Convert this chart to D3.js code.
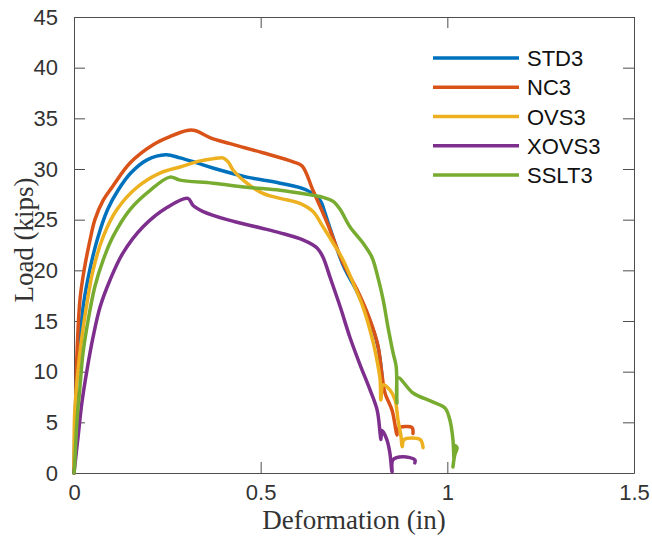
<!DOCTYPE html>
<html>
<head>
<meta charset="utf-8">
<script src="https://cdn.jsdelivr.net/npm/d3@7"></script>
<style>
  body { margin: 0; background: #fff; }
  svg { display: block; }
</style>
</head>
<body>
<div id="chart"></div>
<script>
// load-deformation curves, values (in, kips)
const seriesNames = ["STD3", "NC3", "OVS3", "XOVS3", "SSLT3"];

const std3 = [
  [0, 0], [0.003, 5.2], [0.008, 10.2], [0.016, 13.4], [0.026, 16.8], [0.042, 20.0],
  [0.062, 23.0], [0.090, 26.0], [0.118, 27.9], [0.152, 29.6], [0.196, 30.9], [0.246, 31.4],
  [0.284, 31.1], [0.329, 30.6], [0.372, 30.1], [0.463, 29.2], [0.552, 28.6], [0.624, 27.9],
  [0.659, 26.9], [0.672, 25.7], [0.680, 24.8], [0.721, 20.5], [0.758, 17.9], [0.793, 15.0],
  [0.814, 12.5], [0.825, 9.6]
];

const nc3 = [
  [0, 0], [0.003, 4.2], [0.005, 7.2], [0.008, 11.8], [0.016, 17.1], [0.027, 20.0],
  [0.043, 23.0], [0.056, 25.0], [0.078, 26.9], [0.102, 28.2], [0.150, 30.6], [0.212, 32.4],
  [0.257, 33.2], [0.303, 33.8], [0.324, 33.8], [0.364, 33.1], [0.418, 32.5], [0.506, 31.6],
  [0.587, 30.7], [0.611, 30.3], [0.640, 27.9], [0.678, 24.7], [0.721, 20.7], [0.758, 18.1],
  [0.793, 15.1], [0.814, 12.6], [0.825, 9.7], [0.833, 7.9], [0.852, 6.2], [0.860, 4.7],
  [0.865, 3.75], [0.868, 4.4], [0.905, 4.5], [0.908, 3.9]
];

const ovs3 = [
  [0, 0], [0.002, 6.0], [0.011, 10.2], [0.021, 13.4], [0.035, 16.8], [0.051, 20.0],
  [0.078, 23.3], [0.115, 26.0], [0.169, 28.2], [0.230, 29.6], [0.284, 30.2], [0.338, 30.8],
  [0.372, 31.0], [0.399, 31.1], [0.413, 30.7], [0.426, 29.9], [0.463, 28.6], [0.506, 27.6],
  [0.552, 27.1], [0.605, 26.6], [0.640, 25.8], [0.667, 24.3], [0.694, 22.7], [0.721, 21.0],
  [0.747, 18.8], [0.774, 16.4], [0.798, 13.4], [0.809, 11.6], [0.820, 9.2], [0.822, 7.2],
  [0.828, 8.7], [0.846, 8.2], [0.860, 7.2], [0.868, 5.2], [0.876, 3.6], [0.879, 2.6],
  [0.884, 3.3], [0.927, 3.3], [0.935, 2.5]
];

const xovs3 = [
  [0, 0], [0.011, 3.6], [0.021, 6.9], [0.035, 10.2], [0.051, 13.4], [0.070, 16.4],
  [0.096, 19.0], [0.131, 21.7], [0.185, 24.3], [0.249, 26.2], [0.305, 27.1], [0.319, 26.4],
  [0.346, 25.8], [0.410, 25.0], [0.498, 24.2], [0.552, 23.7], [0.613, 23.0], [0.651, 22.2],
  [0.667, 21.3], [0.686, 19.3], [0.713, 16.4], [0.739, 13.4], [0.766, 10.7], [0.793, 8.2],
  [0.812, 6.2], [0.820, 3.9], [0.822, 3.3], [0.825, 4.2], [0.838, 3.3], [0.846, 2.0],
  [0.852, 0.1], [0.854, 1.3], [0.881, 1.6], [0.913, 1.3], [0.913, 1.0]
];

const sslt3 = [
  [0, 0], [0.001, 0.3], [0.008, 5.2], [0.016, 8.5], [0.024, 11.8], [0.038, 15.1],
  [0.056, 18.4], [0.078, 21.0], [0.104, 23.3], [0.150, 26.0], [0.204, 27.9], [0.257, 29.2],
  [0.284, 28.9], [0.372, 28.6], [0.463, 28.2], [0.552, 27.9], [0.624, 27.5], [0.667, 27.2],
  [0.694, 26.8], [0.713, 26.0], [0.739, 24.3], [0.774, 22.7], [0.798, 21.3], [0.814, 19.3],
  [0.828, 17.1], [0.841, 14.4], [0.855, 11.8], [0.863, 10.5], [0.865, 6.9], [0.868, 9.4],
  [0.908, 7.9], [0.962, 7.0], [0.994, 6.4], [1.007, 5.2], [1.015, 3.3], [1.018, 1.3],
  [1.020, 2.7], [1.026, 2.5], [1.020, 1.8], [1.015, 0.6]
];

const seriesData = [std3, nc3, ovs3, xovs3, sslt3];

const xTicks = [0, 0.5, 1, 1.5];
const yTicks = [0, 5, 10, 15, 20, 25, 30, 35, 40, 45];

// matlab default colour order
const colors = ["#0072BD", "#D95319", "#EDB120", "#7E2F8E", "#77AC30"];

const width = 652, height = 540;
const margin = {top: 17, right: 18, bottom: 67, left: 74};
const w = width - margin.left - margin.right;
const h = height - margin.top - margin.bottom;

const svg = d3.select("#chart").append("svg")
  .attr("width", width)
  .attr("height", height);

const g = svg.append("g")
  .attr("transform", `translate(${margin.left},${margin.top})`);

const x = d3.scaleLinear().domain([0, 1.5]).range([0, w]);
const y = d3.scaleLinear().domain([0, 45]).range([h, 0]);

const axisColor = "#4d4d4d";
const tickFont = "'Liberation Sans', Arial, Helvetica, sans-serif";
const tickLen = 11;

function styleAxis(sel) {
  sel.select(".domain").attr("stroke", axisColor).attr("stroke-width", 1);
  sel.selectAll(".tick line").attr("stroke", axisColor).attr("stroke-width", 1);
  sel.selectAll(".tick text")
    .attr("fill", "#333")
    .style("font-family", tickFont)
    .style("font-size", "22px");
}

// bottom / left axes with inward ticks
g.append("g")
  .attr("transform", `translate(0,${h})`)
  .call(d3.axisBottom(x).tickValues(xTicks).tickSizeInner(-tickLen).tickSizeOuter(0)
    .tickPadding(tickLen).tickFormat(d3.format("")))
  .call(styleAxis);

g.append("g")
  .call(d3.axisLeft(y).tickValues(yTicks).tickSizeInner(-tickLen).tickSizeOuter(0)
    .tickPadding(tickLen + 5))
  .call(styleAxis);

// mirrored ticks on top and right (box on)
g.append("g")
  .call(d3.axisTop(x).tickValues(xTicks).tickSizeInner(-tickLen).tickSizeOuter(0).tickFormat(""))
  .call(styleAxis);

g.append("g")
  .attr("transform", `translate(${w},0)`)
  .call(d3.axisRight(y).tickValues(yTicks).tickSizeInner(-tickLen).tickSizeOuter(0).tickFormat(""))
  .call(styleAxis);

// curves
const line = d3.line()
  .curve(d3.curveCatmullRom.alpha(0.5))
  .x(d => x(d[0]))
  .y(d => y(d[1]));

g.append("g").selectAll("path")
  .data(seriesData)
  .join("path")
  .attr("d", line)
  .attr("fill", "none")
  .attr("stroke", (d, i) => colors[i])
  .attr("stroke-width", 3.5)
  .attr("stroke-linejoin", "round")
  .attr("stroke-linecap", "round");

// legend
const legend = svg.append("g").attr("transform", "translate(433,58)");
const rowH = 29.25;
seriesNames.forEach((name, i) => {
  const row = legend.append("g").attr("transform", `translate(0,${i * rowH})`);
  row.append("line")
    .attr("x1", 0).attr("x2", 86)
    .attr("y1", 0).attr("y2", 0)
    .attr("stroke", colors[i])
    .attr("stroke-width", 3.5);
  row.append("text")
    .attr("x", 94)
    .attr("y", 8)
    .attr("fill", "#111")
    .style("font-family", tickFont)
    .style("font-size", "22px")
    .text(name);
});

// axis titles
const labelFont = "'Liberation Serif', 'Times New Roman', serif";
svg.append("text")
  .attr("x", margin.left + w / 2)
  .attr("y", 529)
  .attr("text-anchor", "middle")
  .attr("fill", "#333")
  .style("font-family", labelFont)
  .style("font-size", "27px")
  .text("Deformation (in)");

svg.append("text")
  .attr("transform", `translate(33,${margin.top + h / 2 - 5}) rotate(-90)`)
  .attr("text-anchor", "middle")
  .attr("fill", "#333")
  .style("font-family", labelFont)
  .style("font-size", "27px")
  .text("Load (kips)");
</script>
</body>
</html>
